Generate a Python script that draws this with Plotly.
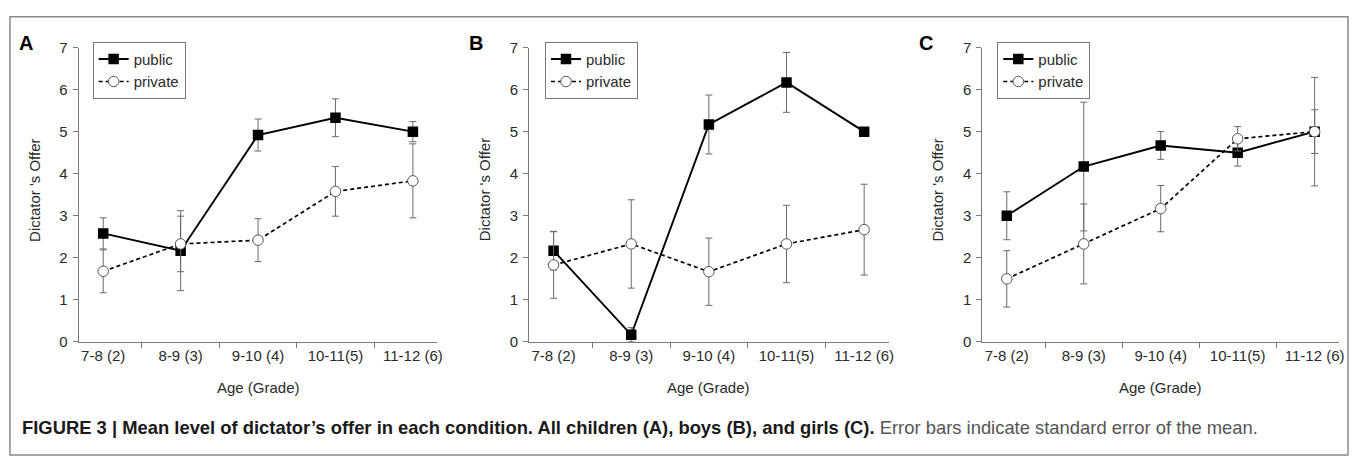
import plotly.graph_objects as go

W, H = 1355, 461

categories = ["7-8 (2)", "8-9 (3)", "9-10 (4)", "10-11(5)", "11-12 (6)"]

a_public = [2.58, 2.17, 4.92, 5.33, 5.00]
a_public_se = [0.37, 0.95, 0.38, 0.45, 0.24]
a_private = [1.68, 2.33, 2.42, 3.58, 3.83]
a_private_se = [0.51, 0.66, 0.51, 0.59, 0.88]

b_public = [2.17, 0.17, 5.17, 6.17, 5.00]
b_public_se = [0.46, 0.17, 0.70, 0.71, 0.0]
b_private = [1.83, 2.33, 1.67, 2.33, 2.67]
b_private_se = [0.79, 1.05, 0.80, 0.92, 1.08]

c_public = [3.00, 4.17, 4.67, 4.50, 5.00]
c_public_se = [0.57, 1.53, 0.33, 0.32, 0.52]
c_private = [1.50, 2.33, 3.17, 4.83, 5.00]
c_private_se = [0.67, 0.95, 0.55, 0.29, 1.29]

panel_letters = ["A", "B", "C"]
y_ticks = [0, 1, 2, 3, 4, 5, 6, 7]
x_title = "Age (Grade)"
y_title = "Dictator 's Offer"
caption_bold = "FIGURE 3 | Mean level of dictator’s offer in each condition. All children (A), boys (B), and girls (C)."
caption_rest = "Error bars indicate standard error of the mean."

panels = [
    (a_public, a_public_se, a_private, a_private_se),
    (b_public, b_public_se, b_private, b_private_se),
    (c_public, c_public_se, c_private, c_private_se),
]

FONT = "Liberation Sans, Arial, Helvetica, sans-serif"
TXT = "#2a2a2a"
AX = "#7a7a7a"


def px(x):
    return x / W


def py(y):
    return 1 - y / H


# pixel geometry of each panel: (x_left, x_right)
x_spans = [(79, 439), (531, 892), (986, 1344)]
y_top, y_bot = 40, 345.7
legend_left = [93, 547, 1001]
letter_x = [26, 478, 929]

fig = go.Figure()
layout = dict(
    width=W, height=H,
    margin=dict(l=0, r=0, t=0, b=0),
    paper_bgcolor="white", plot_bgcolor="white",
    font=dict(family=FONT, size=15, color=TXT),
    showlegend=True,
)
annotations = []

for i, (pub, pub_se, pri, pri_se) in enumerate(panels):
    n = "" if i == 0 else str(i + 1)
    xa, ya = "x" + n, "y" + n
    lg = "legend" + n
    fig.add_trace(go.Scatter(
        x=categories, y=pub, xaxis=xa, yaxis=ya, name="public",
        mode="lines+markers", legend=lg,
        line=dict(color="black", width=1.9),
        marker=dict(symbol="square", size=10.5, color="black"),
        error_y=dict(type="data", array=pub_se, visible=True,
                     color="#6a6a6a", thickness=1, width=3.5),
    ))
    fig.add_trace(go.Scatter(
        x=categories, y=pri, xaxis=xa, yaxis=ya, name="private",
        mode="lines+markers", legend=lg,
        line=dict(color="black", width=1.7, dash="4px,3px"),
        marker=dict(symbol="circle", size=10.5, color="white",
                    line=dict(color="#555", width=1)),
        error_y=dict(type="data", array=pri_se, visible=True,
                     color="#6a6a6a", thickness=1, width=3.5),
    ))
    x0, x1 = x_spans[i]
    layout["xaxis" + n] = dict(
        domain=[px(x0), px(x1)], anchor=ya, type="category",
        tickson="boundaries", ticks="outside", ticklen=5, tickcolor=AX,
        showline=True, linecolor=AX, linewidth=1, showgrid=False,
        tickfont=dict(size=15, color=TXT), zeroline=False,
        fixedrange=True,
    )
    layout["yaxis" + n] = dict(
        domain=[py(y_bot), py(y_top)], anchor=xa, range=[0, 7],
        tickvals=y_ticks, ticks="outside", ticklen=5, tickcolor=AX,
        showline=True, linecolor=AX, linewidth=1, showgrid=False,
        zeroline=False, tickfont=dict(size=15, color=TXT), ticklabelstandoff=2,
        fixedrange=True,
    )
    layout[lg] = dict(
        x=px(legend_left[i]), y=py(34), xanchor="left", yanchor="top",
        bordercolor="#777", borderwidth=1, bgcolor="white",
        font=dict(size=15, color=TXT), itemwidth=30,
    )
    # axis titles
    annotations.append(dict(
        text=x_title, x=px((x0 + x1) / 2), y=py(393), xref="paper", yref="paper",
        showarrow=False, font=dict(size=15, color=TXT), xanchor="center", yanchor="middle",
    ))
    annotations.append(dict(
        text=y_title, x=px(x0 - 45), y=py(188), xref="paper", yref="paper",
        showarrow=False, textangle=-90, font=dict(size=15, color=TXT),
        xanchor="center", yanchor="middle",
    ))
    annotations.append(dict(
        text="<b>" + panel_letters[i] + "</b>", x=px(letter_x[i]), y=py(35),
        xref="paper", yref="paper", showarrow=False,
        font=dict(size=20, color="black"), xanchor="center", yanchor="middle",
    ))

annotations.append(dict(
    text="<b>" + caption_bold + "</b> <span style='color:#555'>" + caption_rest + "</span>",
    x=px(20), y=py(435), xref="paper", yref="paper", showarrow=False,
    xanchor="left", yanchor="middle", font=dict(size=18.4, color="#1a1a1a"),
))

layout["annotations"] = annotations
layout["shapes"] = [dict(
    type="rect", xref="paper", yref="paper",
    x0=px(10), x1=px(1353), y0=py(463), y1=py(8),
    line=dict(color="#8a8a8a", width=1.5), fillcolor="rgba(0,0,0,0)", layer="below",
)]
fig.update_layout(**layout)
fig.write_html("out.html", config={"displayModeBar": False},
               post_script="document.body.style.margin='0';")
